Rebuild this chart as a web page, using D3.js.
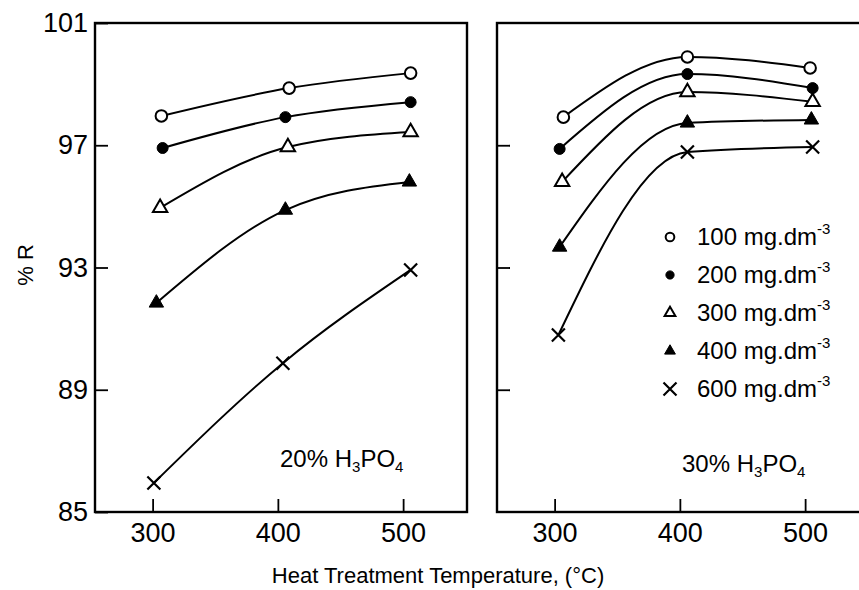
<!DOCTYPE html>
<html>
<head>
<meta charset="utf-8">
<script src="https://cdn.jsdelivr.net/npm/d3@7"></script>
<style>
body{margin:0;background:#fff;}
svg{display:block;font-family:"Liberation Sans",Arial,sans-serif;}
</style>
</head>
<body>
<svg id="svg" width="859" height="590"></svg>
<script>
// concentrations (legend order) and marker kinds
const concs=["100","200","300","400","600"];
const markers=["circleOpen","circleFill","triOpen","triFill","cross"];

// 20% H3PO4 panel: temperatures (as plotted) and %R per concentration
const temps20=[[307,409,506],[308,406,506],[306,408,506],[303,406,505],[301,404,506]];
const r20=[[97.96,98.87,99.36],[96.91,97.92,98.41],[94.95,96.94,97.43],[91.84,94.88,95.80],[85.95,89.87,92.92]];

// 30% H3PO4 panel
const temps30=[[307,406,504],[304,406,506],[306,406,506],[304,406,505],[303,406,506]];
const r30=[[97.92,99.89,99.53],[96.88,99.33,98.87],[95.80,98.74,98.42],[93.67,97.73,97.83],[90.79,96.78,96.94]];

const xTicks=[300,400,500];
const yTicksLeft=[85,89,93,97,101];
const yTicksRight=[89,93,97];

const svg=d3.select("#svg");
const plotTop=23,plotBottom=512;
const y=d3.scaleLinear().domain([85,101]).range([plotBottom,plotTop]);

//draw one panel
function panel(x0,x1,temps,vals,yTicks,showYLabels,label,labelX,labelY){
    const x=d3.scaleLinear().domain([254,551]).range([x0,x1]);
    const g=svg.append("g");

    g.append("g")
        .attr("transform","translate("+x0+",0)")
        .call(d3.axisLeft(y).tickValues(yTicks).tickSizeInner(-13).tickSizeOuter(0).tickPadding(7)
            .tickFormat(showYLabels?d3.format("d"):""))
        .call(a=>a.select(".domain").remove())
        .call(a=>a.selectAll("line").attr("stroke","#000").attr("stroke-width",1.8))
        .call(a=>a.selectAll("text").attr("fill","#000").style("font-size","27px").style("font-family","inherit"));

    g.append("g")
        .attr("transform","translate(0,"+plotBottom+")")
        .call(d3.axisBottom(x).tickValues(xTicks).tickSizeInner(-13).tickSizeOuter(0).tickPadding(11))
        .call(a=>a.select(".domain").remove())
        .call(a=>a.selectAll("line").attr("stroke","#000").attr("stroke-width",1.8))
        .call(a=>a.selectAll("text").attr("fill","#000").style("font-size","27px").style("font-family","inherit"));

    //frame
    g.append("rect")
        .attr("x",x0).attr("y",plotTop)
        .attr("width",x1-x0).attr("height",plotBottom-plotTop)
        .attr("fill","none").attr("stroke","#000").attr("stroke-width",2.4);

    const line=d3.line().curve(d3.curveMonotoneX);
    vals.forEach((v,i)=>{
        const pts=v.map((d,j)=>[x(temps[i][j]),y(d)]);
        g.append("path")
            .attr("d",line(pts))
            .attr("fill","none").attr("stroke","#000").attr("stroke-width",2);
        pts.forEach(p=>drawMarker(g,markers[i],p[0],p[1],1));
    });

    const t=g.append("text")
        .attr("x",labelX).attr("y",labelY)
        .style("font-size","24px");
    t.append("tspan").text(label+"% H");
    t.append("tspan").attr("dy",5).style("font-size","15px").text("3");
    t.append("tspan").attr("dy",-5).text("PO");
    t.append("tspan").attr("dy",5).style("font-size","15px").text("4");
}

function drawMarker(g,kind,cx,cy,s){
    if(kind==="cross"){
        const r=6.5*s;
        g.append("path")
            .attr("d","M"+(cx-r)+","+(cy-r)+"L"+(cx+r)+","+(cy+r)+"M"+(cx-r)+","+(cy+r)+"L"+(cx+r)+","+(cy-r))
            .attr("stroke","#000").attr("stroke-width",2.2).attr("fill","none");
        return;
    }
    const isTri=kind.startsWith("tri");
    const open=kind.endsWith("Open");
    const sym=d3.symbol().type(isTri?d3.symbolTriangle:d3.symbolCircle)
        .size(isTri?90*s*s:(open?105*s*s:95*s*s));
    g.append("path")
        .attr("d",sym())
        .attr("transform","translate("+cx+","+cy+")")
        .attr("fill",open?"#fff":"#000")
        .attr("stroke","#000").attr("stroke-width",open?2:1);
}

panel(95,467,temps20,r20,yTicksLeft,true,"20",280,467);
panel(497,869,temps30,r30,yTicksRight,false,"30",682,472);

//legend
const legend=svg.append("g").attr("transform","translate(670,237)");
concs.forEach((c,i)=>{
    drawMarker(legend,markers[i],0,i*38,markers[i]==="cross"?1:0.75);
    const t=legend.append("text")
        .attr("x",27).attr("y",i*38+8)
        .style("font-size","24px");
    t.append("tspan").text(c+" mg.dm");
    t.append("tspan").attr("dy",-11).style("font-size","15px").text("-3");
});

//axis titles
svg.append("text")
    .attr("x",438).attr("y",583)
    .attr("text-anchor","middle")
    .style("font-size","22px")
    .text("Heat Treatment Temperature, (°C)");

svg.append("text")
    .attr("transform","translate(33,265) rotate(-90)")
    .attr("text-anchor","middle")
    .style("font-size","22px")
    .text("% R");
</script>
</body>
</html>
